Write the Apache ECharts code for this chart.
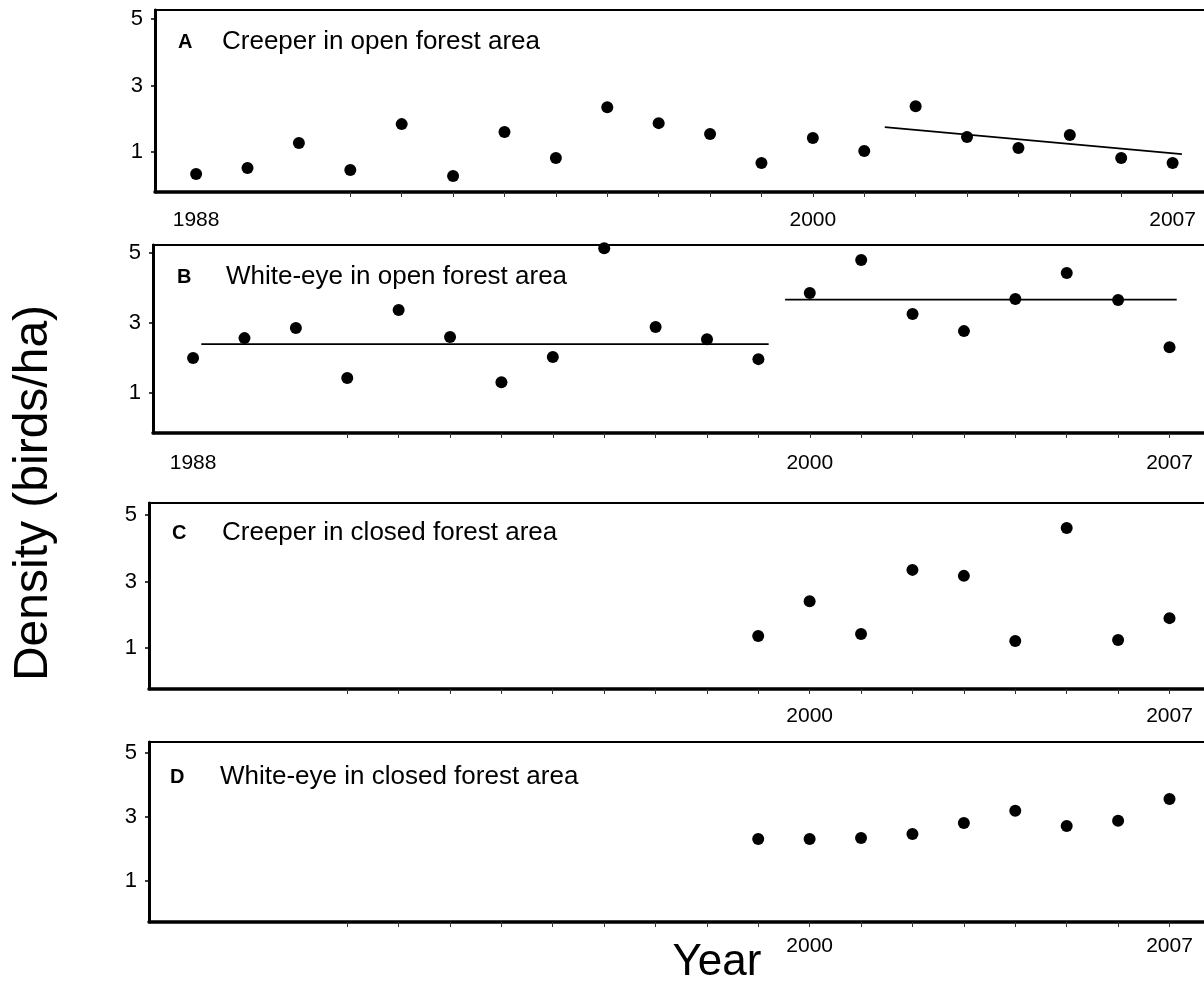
<!DOCTYPE html>
<html>
<head>
  <meta charset="utf-8">
  <title>Creeper and White-eye density</title>
  <script src="https://cdn.jsdelivr.net/npm/echarts@6/dist/echarts.min.js"></script>
</head>
<body style="margin:0">
  <div id="main" style="width:1204px;height:982px;"></div>
  <script type="text/javascript">
    // survey years
    var yearsOpen = [1988, 1989, 1990, 1991, 1992, 1993, 1994, 1995, 1996, 1997,
                     1998, 1999, 2000, 2001, 2002, 2003, 2004, 2005, 2006, 2007];
    var yearsClosed = [1999, 2000, 2001, 2002, 2003, 2004, 2005, 2006, 2007];

    // density (birds/ha)
    var creeperOpen = [0.34, 0.52, 1.27, 0.46, 1.84, 0.28, 1.60, 0.82, 2.35, 1.87,
                       1.54, 0.67, 1.42, 1.03, 2.38, 1.45, 1.12, 1.51, 0.82, 0.67];
    var whiteEyeOpen = [2.00, 2.57, 2.86, 1.43, 3.37, 2.60, 1.31, 2.03, 5.14, 2.89,
                        2.54, 1.97, 3.86, 4.80, 3.26, 2.77, 3.69, 4.43, 3.66, 2.31];
    var creeperClosed = [1.36, 2.41, 1.42, 3.35, 3.17, 1.21, 4.61, 1.24, 1.90];
    var whiteEyeClosed = [2.31, 2.31, 2.34, 2.47, 2.81, 3.19, 2.72, 2.88, 3.56];

    // fitted lines [year, density]
    var trendCreeperOpen = [[2001.4, 1.75], [2007.18, 0.94]];
    var meanWhiteEyeEarly = [[1988.16, 2.40], [1999.2, 2.40]];
    var meanWhiteEyeLate = [[1999.52, 3.67], [2007.14, 3.67]];

    var panelLetters = ['A', 'B', 'C', 'D'];
    var panelTitles = ['Creeper in open forest area', 'White-eye in open forest area',
                       'Creeper in closed forest area', 'White-eye in closed forest area'];
    var yTicks = [1, 3, 5];
    var xTicks = [1991, 1992, 1993, 1994, 1995, 1996, 1997, 1998, 1999,
                  2000, 2001, 2002, 2003, 2004, 2005, 2006, 2007];
    var xLabelsOpen = [1988, 2000, 2007];
    var xLabelsClosed = [2000, 2007];

    var font = 'Liberation Sans, Arial, Helvetica, sans-serif';
    var myChart = echarts.init(document.getElementById('main'));

    function pair(xs, ys) {
      return xs.map(function (x, i) { return [x, ys[i]]; });
    }

    // layout of the four panels
    var panels = [
      { top: 10,  height: 182, left: 155, xmin: 1987.2,  xmax: 2008.0,  ymin: -0.20, ymax: 5.27, labels: xLabelsOpen,   margin: 18 },
      { top: 245, height: 188, left: 153, xmin: 1987.22, xmax: 2008.06, ymin: -0.14, ymax: 5.23, labels: xLabelsOpen,   margin: 20 },
      { top: 503, height: 186, left: 149, xmin: 1987.15, xmax: 2008.06, ymin: -0.23, ymax: 5.36, labels: xLabelsClosed, margin: 17 },
      { top: 742, height: 180, left: 149, xmin: 1987.15, xmax: 2008.06, ymin: -0.28, ymax: 5.34, labels: xLabelsClosed, margin: 14 }
    ];

    var grids = [], xAxes = [], yAxes = [], graphics = [];
    panels.forEach(function (p, i) {
      grids.push({
        left: p.left, right: -20, top: p.top, height: p.height,
        show: true, borderColor: '#000', borderWidth: 2,
        outerBoundsMode: 'none', containLabel: false
      });
      xAxes.push({
        type: 'value', gridIndex: i, min: p.xmin, max: p.xmax,
        splitLine: { show: false },
        axisLine: { onZero: false, lineStyle: { color: '#000', width: 3.5 } },
        axisTick: { customValues: xTicks, length: 5, lineStyle: { color: '#333', width: 1 } },
        axisLabel: {
          customValues: p.labels, margin: p.margin, color: '#000', fontSize: 21, fontFamily: font,
          formatter: function (v) { return String(Math.round(v)); }
        }
      });
      yAxes.push({
        type: 'value', gridIndex: i, min: p.ymin, max: p.ymax,
        splitLine: { show: false },
        axisLine: { onZero: false, lineStyle: { color: '#000', width: 3 } },
        axisTick: { customValues: yTicks, length: 4, lineStyle: { color: '#000', width: 1.5 } },
        axisLabel: { customValues: yTicks, margin: 12, color: '#000', fontSize: 22, fontFamily: font }
      });
    });

    var letterPos = [[178, 42], [177, 277], [172, 533], [170, 777]];
    var titlePos = [[222, 42], [226, 277], [222, 533], [220, 777]];
    panels.forEach(function (p, i) {
      graphics.push({
        type: 'text', x: letterPos[i][0], y: letterPos[i][1],
        style: { text: panelLetters[i], font: 'bold 20px ' + font, fill: '#000', verticalAlign: 'middle' }
      });
      graphics.push({
        type: 'text', x: titlePos[i][0], y: titlePos[i][1],
        style: { text: panelTitles[i], font: '26px ' + font, fill: '#000', verticalAlign: 'middle' }
      });
    });
    graphics.push({
      type: 'text', x: 34, y: 493, rotation: Math.PI / 2,
      style: { text: 'Density (birds/ha)', font: '48px ' + font, fill: '#000', align: 'center', verticalAlign: 'middle' }
    });
    graphics.push({
      type: 'text', x: 717, y: 963,
      style: { text: 'Year', font: '44px ' + font, fill: '#000', align: 'center', verticalAlign: 'middle' }
    });

    var dot = { type: 'scatter', symbol: 'circle', symbolSize: 12, itemStyle: { color: '#000', opacity: 1 } };
    function scatter(idx, data) {
      return Object.assign({}, dot, { xAxisIndex: idx, yAxisIndex: idx, data: data });
    }
    function fitLine(idx, data) {
      return { type: 'line', xAxisIndex: idx, yAxisIndex: idx, data: data, symbol: 'none',
               lineStyle: { color: '#000', width: 1.8 } };
    }

    var option = {
      animation: false,
      backgroundColor: '#fff',
      grid: grids,
      xAxis: xAxes,
      yAxis: yAxes,
      graphic: graphics,
      series: [
        scatter(0, pair(yearsOpen, creeperOpen)),
        fitLine(0, trendCreeperOpen),
        scatter(1, pair(yearsOpen, whiteEyeOpen)),
        fitLine(1, meanWhiteEyeEarly),
        fitLine(1, meanWhiteEyeLate),
        scatter(2, pair(yearsClosed, creeperClosed)),
        scatter(3, pair(yearsClosed, whiteEyeClosed))
      ]
    };
    myChart.setOption(option);
  </script>
</body>
</html>
